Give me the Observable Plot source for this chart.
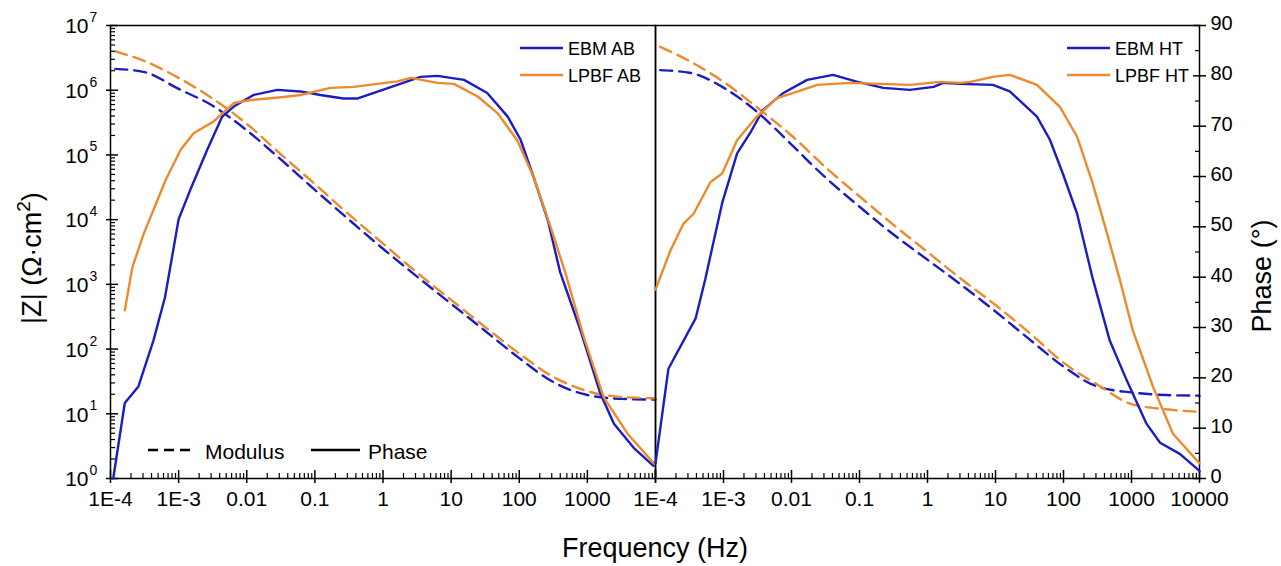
<!DOCTYPE html>
<html>
<head>
<meta charset="utf-8">
<script src="https://cdn.jsdelivr.net/npm/d3@7"></script>
<script src="https://cdn.jsdelivr.net/npm/@observablehq/plot@0.6"></script>
<style>
  html, body { margin: 0; padding: 0; background: #fff; }
  #wrap { position: relative; width: 1281px; height: 566px; overflow: hidden; font-family: "Liberation Sans", Arial, sans-serif; }
  #wrap > svg { position: absolute; top: 0; }
</style>
</head>
<body>
<div id="wrap"></div>
<script>
// ---------- DATA ----------
// log10 of frequency (Hz) for the modulus curves
const modLogFreq = [-3.93, -3.5, -3, -2.5, -2, -1.5, -1, -0.5, 0, 0.5, 1, 1.5, 2, 2.5, 3, 3.5, 4];
// log10 |Z| (Ohm·cm2)
const modEbmAB  = [6.33, 6.28, 6.02, 5.76, 5.38, 4.93, 4.46, 4.00, 3.55, 3.12, 2.70, 2.28, 1.86, 1.49, 1.29, 1.23, 1.22];
const modLpbfAB = [6.60, 6.45, 6.19, 5.87, 5.48, 5.01, 4.55, 4.08, 3.63, 3.18, 2.76, 2.34, 1.93, 1.57, 1.35, 1.26, 1.24];
const modEbmHT  = [6.31, 6.27, 6.04, 5.66, 5.16, 4.65, 4.20, 3.77, 3.38, 2.99, 2.58, 2.15, 1.73, 1.42, 1.33, 1.29, 1.28];
const modLpbfHT = [6.67, 6.45, 6.13, 5.73, 5.30, 4.81, 4.36, 3.92, 3.50, 3.08, 2.68, 2.25, 1.79, 1.45, 1.15, 1.07, 1.03];

// Phase curves: [log10 frequency, phase in degrees]
const phaseEbmAB = [[-3.96,0],[-3.79,15],[-3.59,18.3],[-3.37,27.4],[-3.2,36],[-3.0,51.5],[-2.83,57.3],[-2.58,65.3],[-2.36,71.9],[-2.19,73.9],[-1.9,76.2],[-1.55,77.2],[-1.21,76.9],[-0.92,76.2],[-0.58,75.5],[-0.37,75.5],[0.21,78.2],[0.55,79.8],[0.8,80.0],[1.19,79.2],[1.53,76.6],[1.83,71.9],[2.02,67.3],[2.21,59.9],[2.42,51.3],[2.6,41],[2.9,29.4],[3.19,16.9],[3.39,10.9],[3.68,6.1],[3.97,2.5]];
const phaseLpbfAB = [[-3.79,33.4],[-3.68,41.9],[-3.51,48.7],[-3.19,59.3],[-2.97,65.3],[-2.78,68.6],[-2.49,70.9],[-2.19,74.6],[-1.94,75.2],[-1.46,75.8],[-1.21,76.2],[-0.77,77.6],[-0.43,77.8],[0.21,78.9],[0.41,79.6],[0.8,78.6],[1.04,78.4],[1.39,75.9],[1.68,72.6],[1.97,67.2],[2.21,59.9],[2.46,50.0],[2.68,40.7],[2.95,28.0],[3.24,16.1],[3.59,8.9],[3.97,3.1]];
const phaseEbmHT = [[-4.0,3],[-3.81,21.8],[-3.41,31.8],[-3.27,39.5],[-3.02,54.7],[-2.8,64.6],[-2.61,68.6],[-2.42,73.2],[-2.12,76.6],[-1.77,79.2],[-1.39,80.2],[-1.03,78.8],[-0.65,77.6],[-0.26,77.2],[0.09,77.8],[0.23,78.6],[0.48,78.4],[0.96,78.2],[1.21,76.9],[1.61,71.9],[1.8,67.3],[1.99,60.6],[2.2,52.6],[2.43,39.7],[2.68,27.4],[2.93,19.5],[3.22,10.9],[3.42,7.1],[3.71,4.9],[4.0,1.5]];
const phaseLpbfHT = [[-4.0,37.5],[-3.93,40],[-3.78,45.3],[-3.59,50.6],[-3.44,52.6],[-3.19,58.9],[-3.02,60.6],[-2.8,67.2],[-2.51,71.9],[-2.21,75.6],[-1.97,76.6],[-1.62,78.2],[-1.14,78.6],[-0.26,78.2],[0.19,78.8],[0.48,78.6],[0.63,78.8],[0.96,79.8],[1.21,80.2],[1.61,78.2],[1.95,73.8],[2.2,67.9],[2.43,58.6],[2.64,48.7],[2.83,39.4],[3.02,29.4],[3.32,18.1],[3.61,8.9],[4.0,3.0]];

// Tick values / labels
const xMajor = [1e-4, 1e-3, 1e-2, 1e-1, 1, 10, 100, 1000, 1e4];
const xLabelsLeft  = ["1E-4", "1E-3", "0.01", "0.1", "1", "10", "100", "1000"];
const xLabelsRight = ["1E-4", "1E-3", "0.01", "0.1", "1", "10", "100", "1000", "10000"];
const zExponents = [0, 1, 2, 3, 4, 5, 6, 7];
const phaseMajor = [0, 10, 20, 30, 40, 50, 60, 70, 80, 90];
const phaseMinor = [5, 15, 25, 35, 45, 55, 65, 75, 85];

const seriesNames = { ebmAB: "EBM AB", lpbfAB: "LPBF AB", ebmHT: "EBM HT", lpbfHT: "LPBF HT" };
const legendNames = { modulus: "Modulus", phase: "Phase" };
const titles = { z: "|Z| (\u03A9\u00B7cm", zSup: "2", zEnd: ")", phase: "Phase (\u00B0)", freq: "Frequency (Hz)" };

// ---------- STYLE ----------
const BLUE = "#1c1cc4";
const ORANGE = "#ec8b2b";
const FONT = "'Liberation Sans', Arial, sans-serif";
const LW = 2.4;
const DASH = "12,7";

// ---------- GEOMETRY ----------
const H = 520, MT = 25, MB = 42;
const PH = H - MT - MB;       // panel height
const PW = 545;               // panel width

// ---------- helpers ----------
const modRows = (vals) => modLogFreq.map((lf, i) => ({ f: 10 ** lf, z: 10 ** vals[i] }));
const phRows = (arr) => arr.map(([lf, p]) => ({ f: 10 ** lf, p }));
const xMinor = [];
for (let e = -4; e < 4; e++) for (let m = 2; m <= 9; m++) xMinor.push(m * 10 ** e);
const yMinor = [];
for (let e = 0; e < 7; e++) for (let m = 2; m <= 9; m++) yMinor.push(m * 10 ** e);

const wrap = document.getElementById("wrap");
function place(svg, left) { svg.style.left = left + "px"; wrap.appendChild(svg); }

const baseStyle = { background: "transparent", fontFamily: FONT, overflow: "visible" };

// ---------- LEFT PANEL: modulus (log |Z|) ----------
const leftMod = Plot.plot({
  width: 660, height: H, marginLeft: 110, marginRight: 5, marginTop: MT, marginBottom: MB,
  x: { type: "log", domain: [1e-4, 1e4], axis: null },
  y: { type: "log", domain: [1, 1e7], axis: null },
  style: baseStyle,
  marks: [
    Plot.line(modRows(modEbmAB), { x: "f", y: "z", stroke: BLUE, strokeWidth: LW, strokeDasharray: DASH, curve: "monotone-x" }),
    Plot.line(modRows(modLpbfAB), { x: "f", y: "z", stroke: ORANGE, strokeWidth: LW, strokeDasharray: DASH, curve: "monotone-x" }),
    // x ticks
    Plot.ruleX(xMajor, { x: d => d, insetTop: PH - 8, insetBottom: -5, stroke: "black", strokeWidth: 1.5 }),
    Plot.ruleX(xMinor, { x: d => d, insetTop: PH - 5, stroke: "black", strokeWidth: 1.2 }),
    // y ticks
    Plot.ruleY(zExponents, { y: d => 10 ** d, insetLeft: -4, insetRight: PW - 8, stroke: "black", strokeWidth: 1.5 }),
    Plot.ruleY(yMinor, { y: d => d, insetRight: PW - 5, stroke: "black", strokeWidth: 1.2 }),
    Plot.frame({ stroke: "black", strokeWidth: 1.5 }),
    // x tick labels
    Plot.text(xLabelsLeft, { x: (d, i) => xMajor[i], text: d => d, frameAnchor: "bottom", dy: 27, fontSize: 21 }),
    // y tick labels 10^n
    Plot.text(zExponents, { y: d => 10 ** d, text: () => "10", frameAnchor: "left", textAnchor: "end", dx: -22, dy: 1, fontSize: 21 }),
    Plot.text(zExponents, { y: d => 10 ** d, text: d => String(d), frameAnchor: "left", textAnchor: "start", dx: -21, dy: -8, fontSize: 14 })
  ]
});
place(leftMod, 0);

// ---------- LEFT PANEL: phase ----------
const leftPh = Plot.plot({
  width: 660, height: H, marginLeft: 110, marginRight: 5, marginTop: MT, marginBottom: MB,
  x: { type: "log", domain: [1e-4, 1e4], axis: null },
  y: { domain: [0, 90], axis: null },
  style: baseStyle,
  marks: [
    Plot.line(phRows(phaseEbmAB), { x: "f", y: "p", stroke: BLUE, strokeWidth: LW }),
    Plot.line(phRows(phaseLpbfAB), { x: "f", y: "p", stroke: ORANGE, strokeWidth: LW })
  ]
});
place(leftPh, 0);

// ---------- RIGHT PANEL: modulus ----------
const rightMod = Plot.plot({
  width: 631, height: H, marginLeft: 5, marginRight: 82, marginTop: MT, marginBottom: MB,
  x: { type: "log", domain: [1e-4, 1e4], axis: null },
  y: { type: "log", domain: [1, 1e7], axis: null },
  style: baseStyle,
  marks: [
    Plot.line(modRows(modEbmHT), { x: "f", y: "z", stroke: BLUE, strokeWidth: LW, strokeDasharray: DASH, curve: "monotone-x" }),
    Plot.line(modRows(modLpbfHT), { x: "f", y: "z", stroke: ORANGE, strokeWidth: LW, strokeDasharray: DASH, curve: "monotone-x" }),
    Plot.ruleX(xMajor, { x: d => d, insetTop: PH - 8, insetBottom: -5, stroke: "black", strokeWidth: 1.5 }),
    Plot.ruleX(xMinor, { x: d => d, insetTop: PH - 5, stroke: "black", strokeWidth: 1.2 }),
    Plot.frame({ stroke: "black", strokeWidth: 1.5 }),
    Plot.text(xLabelsRight, { x: (d, i) => xMajor[i], text: d => d, frameAnchor: "bottom", dy: 27, fontSize: 21 })
  ]
});
place(rightMod, 650);

// ---------- RIGHT PANEL: phase ----------
const rightPh = Plot.plot({
  width: 631, height: H, marginLeft: 5, marginRight: 82, marginTop: MT, marginBottom: MB,
  x: { type: "log", domain: [1e-4, 1e4], axis: null },
  y: { domain: [0, 90], axis: null },
  style: baseStyle,
  marks: [
    Plot.line(phRows(phaseEbmHT), { x: "f", y: "p", stroke: BLUE, strokeWidth: LW }),
    Plot.line(phRows(phaseLpbfHT), { x: "f", y: "p", stroke: ORANGE, strokeWidth: LW }),
    Plot.ruleY(phaseMajor, { y: d => d, insetLeft: PW - 7, insetRight: -7, stroke: "black", strokeWidth: 1.5 }),
    Plot.ruleY(phaseMinor, { y: d => d, insetLeft: PW - 5, stroke: "black", strokeWidth: 1.2 }),
    Plot.text(phaseMajor, { y: d => d, text: d => String(d), frameAnchor: "right", textAnchor: "start", dx: 11, dy: -2, fontSize: 20 })
  ]
});
place(rightPh, 650);

// ---------- LEGENDS & AXIS TITLES (overlay) ----------
const ns = "http://www.w3.org/2000/svg";
const leg = document.createElementNS(ns, "svg");
leg.setAttribute("width", 1281); leg.setAttribute("height", 566);
leg.style.left = "0px"; leg.style.pointerEvents = "none";
leg.setAttribute("font-family", FONT);
function ln(x1, y1, x2, y2, color, dash) {
  const l = document.createElementNS(ns, "line");
  l.setAttribute("x1", x1); l.setAttribute("y1", y1); l.setAttribute("x2", x2); l.setAttribute("y2", y2);
  l.setAttribute("stroke", color); l.setAttribute("stroke-width", LW);
  if (dash) l.setAttribute("stroke-dasharray", dash);
  leg.appendChild(l);
}
function tx(x, y, s, size) {
  const t = document.createElementNS(ns, "text");
  t.setAttribute("x", x); t.setAttribute("y", y); t.setAttribute("font-size", size);
  t.setAttribute("dominant-baseline", "central"); t.textContent = s; leg.appendChild(t);
  return t;
}
ln(520, 48, 563, 48, BLUE); tx(568, 49, seriesNames.ebmAB, 18);
ln(520, 75, 563, 75, ORANGE); tx(568, 76, seriesNames.lpbfAB, 18);
ln(1067, 48, 1110, 48, BLUE); tx(1115, 49, seriesNames.ebmHT, 18);
ln(1067, 75, 1110, 75, ORANGE); tx(1115, 76, seriesNames.lpbfHT, 18);
ln(148, 450, 190, 450, "black", "10,6"); tx(205, 451, legendNames.modulus, 21);
ln(311, 450, 360, 450, "black"); tx(368, 451, legendNames.phase, 21);

// |Z| title with superscript
const zt = document.createElementNS(ns, "text");
zt.setAttribute("transform", "translate(41,258) rotate(-90)");
zt.setAttribute("text-anchor", "middle"); zt.setAttribute("font-size", 27);
zt.appendChild(document.createTextNode(titles.z));
const sup = document.createElementNS(ns, "tspan");
sup.setAttribute("dy", -11); sup.setAttribute("font-size", 19); sup.textContent = titles.zSup;
zt.appendChild(sup);
const close = document.createElementNS(ns, "tspan");
close.setAttribute("dy", 11); close.textContent = titles.zEnd;
zt.appendChild(close);
leg.appendChild(zt);

const pt = document.createElementNS(ns, "text");
pt.setAttribute("transform", "translate(1271,276) rotate(-90)");
pt.setAttribute("text-anchor", "middle"); pt.setAttribute("font-size", 27);
pt.textContent = titles.phase; leg.appendChild(pt);

const ft = document.createElementNS(ns, "text");
ft.setAttribute("x", 655); ft.setAttribute("y", 557);
ft.setAttribute("text-anchor", "middle"); ft.setAttribute("font-size", 27);
ft.textContent = titles.freq; leg.appendChild(ft);

wrap.appendChild(leg);
</script>
</body>
</html>
